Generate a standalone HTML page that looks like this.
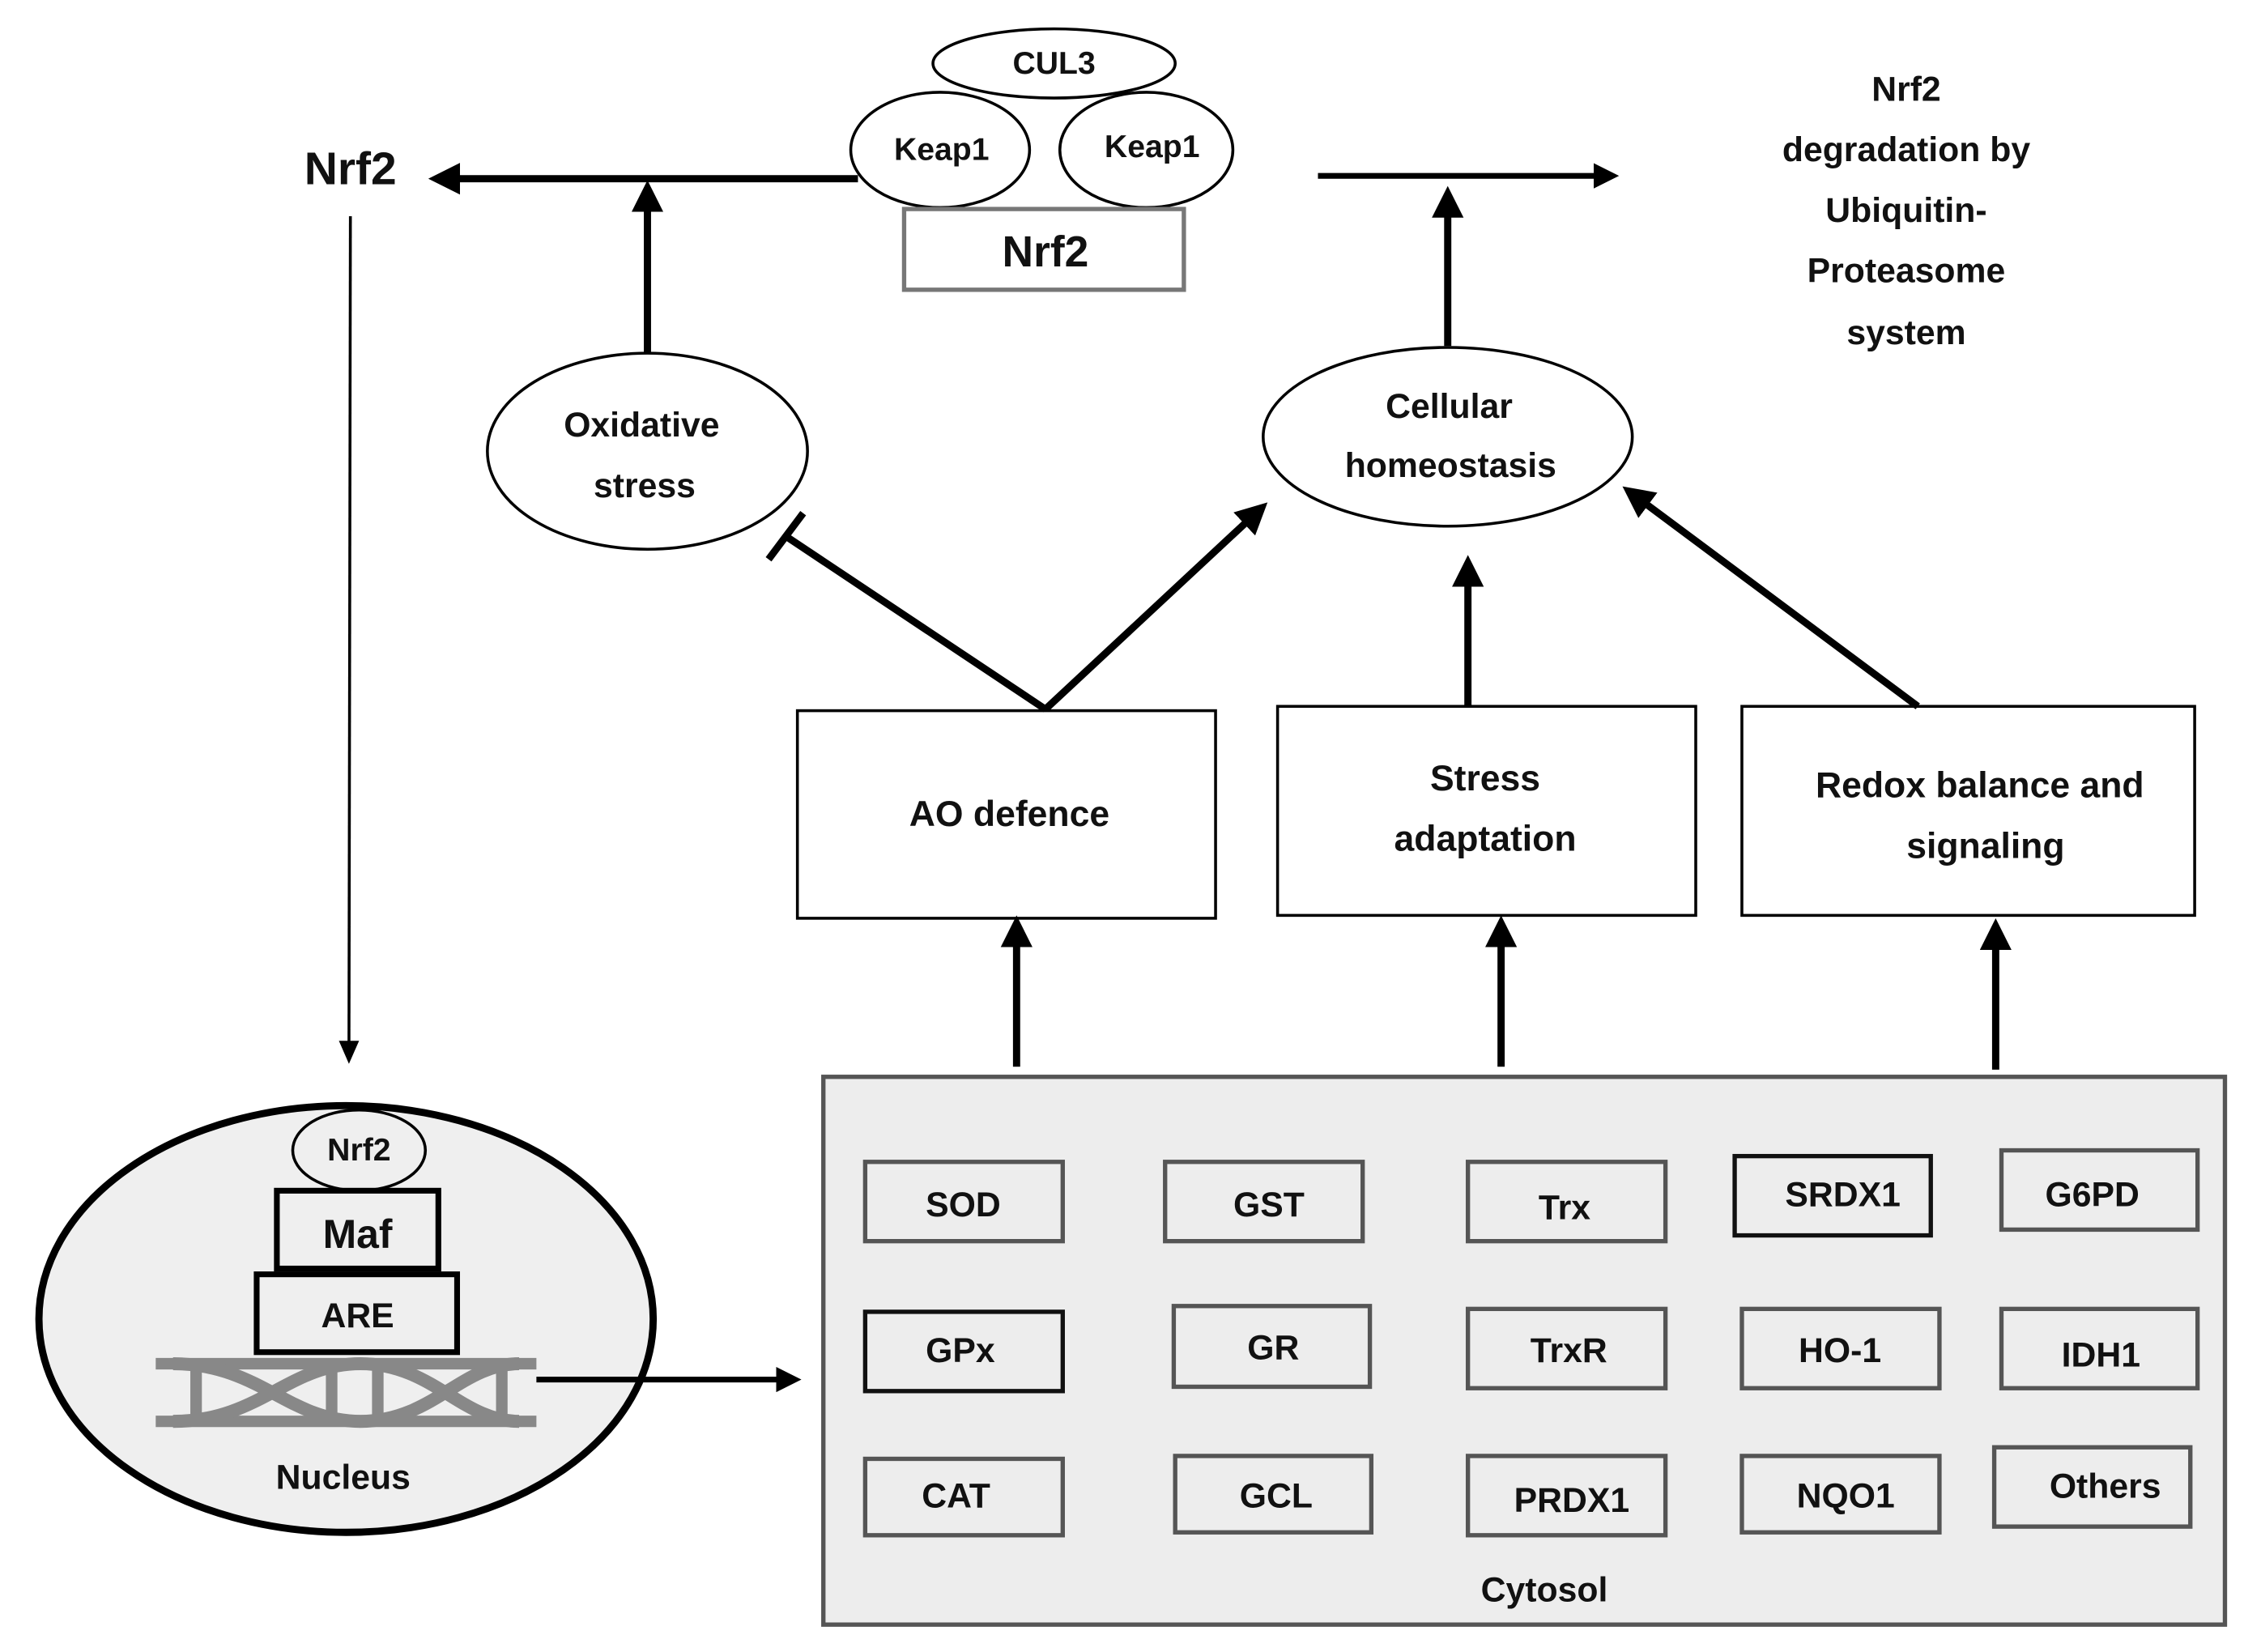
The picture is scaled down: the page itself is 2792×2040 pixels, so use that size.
<!DOCTYPE html>
<html><head><meta charset="utf-8"><style>
html,body{margin:0;padding:0;background:#fff;}
svg{display:block}
text{font-family:"Liberation Sans",sans-serif;font-weight:bold;fill:#111;text-anchor:middle;dominant-baseline:central}
</style></head><body>
<svg width="2792" height="2040" viewBox="0 0 1568 1146" preserveAspectRatio="none" xmlns="http://www.w3.org/2000/svg">
<defs>
<marker id="ah" markerWidth="4.4" markerHeight="4.4" refX="2.2" refY="2.2" orient="auto" markerUnits="strokeWidth"><path d="M0,0 L4.4,2.2 L0,4.4 z" fill="#000"/></marker>
<marker id="ahs" markerWidth="8" markerHeight="7" refX="4" refY="3.5" orient="auto" markerUnits="strokeWidth"><path d="M0,0 L8,3.5 L0,7 z" fill="#000"/></marker>
</defs>
<g stroke="#000" fill="none">
<ellipse cx="731" cy="44" rx="84" ry="24" stroke-width="2"/>
<ellipse cx="652" cy="104" rx="62" ry="40" stroke-width="2" fill="#fff"/>
<ellipse cx="795" cy="104" rx="60" ry="40" stroke-width="2" fill="#fff"/>
<rect x="627" y="145" width="194" height="56" stroke="#777" stroke-width="3" fill="#fff"/>
<line x1="595" y1="124" x2="308" y2="124" stroke-width="5" marker-end="url(#ah)"/>
<line x1="449" y1="245" x2="449" y2="136" stroke-width="5" marker-end="url(#ah)"/>
<line x1="914" y1="122" x2="1114" y2="122" stroke-width="4" marker-end="url(#ah)"/>
<line x1="1004" y1="240" x2="1004" y2="140" stroke-width="5" marker-end="url(#ah)"/>
<ellipse cx="449" cy="313" rx="111" ry="68" stroke-width="2"/>
<ellipse cx="1004" cy="303" rx="128" ry="62" stroke-width="2"/>
<line x1="725" y1="492" x2="545" y2="372" stroke-width="5"/>
<line x1="533" y1="388" x2="557" y2="356" stroke-width="5"/>
<line x1="725" y1="492" x2="871" y2="356" stroke-width="5" marker-end="url(#ah)"/>
<line x1="1018" y1="490" x2="1018" y2="396" stroke-width="5" marker-end="url(#ah)"/>
<line x1="1330" y1="490" x2="1134" y2="344" stroke-width="5" marker-end="url(#ah)"/>
<rect x="553" y="493" width="290" height="144" stroke-width="2"/>
<rect x="886" y="490" width="290" height="145" stroke-width="2"/>
<rect x="1208" y="490" width="314" height="145" stroke-width="2"/>
<line x1="705" y1="740" x2="705" y2="646" stroke-width="5" marker-end="url(#ah)"/>
<line x1="1041" y1="740" x2="1041" y2="646" stroke-width="5" marker-end="url(#ah)"/>
<line x1="1384" y1="742" x2="1384" y2="648" stroke-width="5" marker-end="url(#ah)"/>
<rect x="571" y="747" width="972" height="380" fill="#ededed" stroke="#555" stroke-width="3"/>
<g stroke="#555" stroke-width="3">
<rect x="600" y="806" width="137" height="55"/><rect x="808" y="806" width="137" height="55"/><rect x="1018" y="806" width="137" height="55"/><rect x="1203" y="802" width="136" height="55" stroke="#111"/><rect x="1388" y="798" width="136" height="55"/>
<rect x="600" y="910" width="137" height="55" stroke="#111"/><rect x="814" y="906" width="136" height="56"/><rect x="1018" y="908" width="137" height="55"/><rect x="1208" y="908" width="137" height="55"/><rect x="1388" y="908" width="136" height="55"/>
<rect x="600" y="1012" width="137" height="53"/><rect x="815" y="1010" width="136" height="53"/><rect x="1018" y="1010" width="137" height="55"/><rect x="1208" y="1010" width="137" height="53"/><rect x="1383" y="1004" width="136" height="55"/>
</g>
<line x1="243" y1="150" x2="242" y2="730" stroke-width="2" marker-end="url(#ahs)"/>
<ellipse cx="240" cy="915" rx="213" ry="148" stroke-width="5" fill="#efefef"/>
<ellipse cx="249" cy="798" rx="46" ry="28" stroke-width="2"/>
<rect x="192" y="826" width="112" height="54" stroke-width="4"/>
<rect x="178" y="884" width="139" height="54" stroke-width="4"/>
<g stroke="#888" stroke-width="8">
<line x1="108" y1="946" x2="372" y2="946"/><line x1="108" y1="986" x2="372" y2="986"/>
<path d="M120,946 C180,946 200,986 250,986 C300,986 320,946 360,946" stroke-width="9"/>
<path d="M120,986 C180,986 200,946 250,946 C300,946 320,986 360,986" stroke-width="9"/>
<line x1="136" y1="950" x2="136" y2="982"/><line x1="230" y1="950" x2="230" y2="982"/><line x1="262" y1="950" x2="262" y2="982"/><line x1="348" y1="950" x2="348" y2="982"/>
</g>
<line x1="372" y1="957" x2="547" y2="957" stroke-width="4" marker-end="url(#ah)"/>
</g>
<text x="731" y="44" font-size="22">CUL3</text>
<text x="653" y="104" font-size="22">Keap1</text>
<text x="799" y="102" font-size="22">Keap1</text>
<text x="725" y="175" font-size="30">Nrf2</text>
<text x="243" y="117" font-size="32">Nrf2</text>
<text x="445" y="295" font-size="24">Oxidative</text>
<text x="447" y="337" font-size="24">stress</text>
<text x="1005" y="282" font-size="24">Cellular</text>
<text x="1006" y="323" font-size="24">homeostasis</text>
<g font-size="24">
<text x="1322" y="62">Nrf2</text><text x="1322" y="104">degradation by</text><text x="1322" y="146">Ubiquitin-</text><text x="1322" y="188">Proteasome</text><text x="1322" y="231">system</text>
</g>
<text x="700" y="565" font-size="25">AO defence</text>
<text x="1030" y="540" font-size="25">Stress</text>
<text x="1030" y="582" font-size="25">adaptation</text>
<text x="1373" y="545" font-size="25">Redox balance and</text>
<text x="1377" y="587" font-size="25">signaling</text>
<g font-size="24">
<text x="668" y="836">SOD</text><text x="880" y="836">GST</text><text x="1085" y="838">Trx</text><text x="1278" y="829">SRDX1</text><text x="1451" y="829">G6PD</text>
<text x="666" y="937">GPx</text><text x="883" y="935">GR</text><text x="1088" y="937">TrxR</text><text x="1276" y="937">HO-1</text><text x="1457" y="940">IDH1</text>
<text x="663" y="1038">CAT</text><text x="885" y="1038">GCL</text><text x="1090" y="1041">PRDX1</text><text x="1280" y="1038">NQO1</text><text x="1460" y="1031">Others</text>
<text x="1071" y="1103">Cytosol</text>
</g>
<text x="249" y="798" font-size="22">Nrf2</text>
<text x="248" y="856" font-size="28">Maf</text>
<text x="248" y="913" font-size="24">ARE</text>
<text x="238" y="1025" font-size="24">Nucleus</text>
</svg>
</body></html>
